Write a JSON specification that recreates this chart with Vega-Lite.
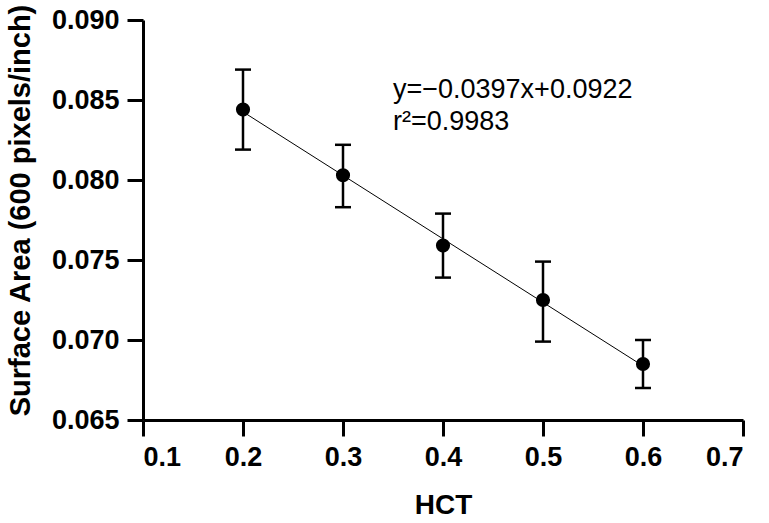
{
  "$schema": "https://vega.github.io/schema/vega-lite/v6.json",
  "width": 600,
  "height": 400,
  "autosize": {"type": "none"},
  "padding": {"left": 143, "top": 20, "right": 26, "bottom": 103},
  "background": "white",
  "config": {
    "font": "Liberation Sans",
    "view": {"stroke": null},
    "axis": {
      "grid": false,
      "domainColor": "black",
      "domainWidth": 3,
      "tickColor": "black",
      "tickWidth": 3,
      "tickSize": 16,
      "labelColor": "black",
      "labelFont": "Liberation Sans",
      "labelFontWeight": "bold",
      "labelFontSize": 27,
      "titleColor": "black",
      "titleFont": "Liberation Sans",
      "titleFontWeight": "bold",
      "titleFontSize": 28
    }
  },
  "datasets": {
    "measurements": [
      {"hct": 0.2, "area": 0.0844, "lo": 0.0819, "hi": 0.0869},
      {"hct": 0.3, "area": 0.0803, "lo": 0.0783, "hi": 0.0822},
      {"hct": 0.4, "area": 0.0759, "lo": 0.0739, "hi": 0.0779},
      {"hct": 0.5, "area": 0.0725, "lo": 0.0699, "hi": 0.0749},
      {"hct": 0.6, "area": 0.0685, "lo": 0.0670, "hi": 0.0700}
    ],
    "fit": [
      {"hct": 0.2, "area": 0.08426},
      {"hct": 0.6, "area": 0.06838}
    ],
    "notes": [
      {"hct": 0.35, "area": 0.08563, "text": "y=−0.0397x+0.0922"},
      {"hct": 0.35, "area": 0.08363, "text": "r²=0.9983"}
    ]
  },
  "layer": [
    {
      "data": {"name": "fit"},
      "mark": {"type": "line", "color": "black", "strokeWidth": 1},
      "encoding": {
        "x": {
          "field": "hct", "type": "quantitative",
          "scale": {"domain": [0.1, 0.7], "nice": false, "zero": false},
          "axis": {
            "title": "HCT",
            "values": [0.1, 0.2, 0.3, 0.4, 0.5, 0.6, 0.7],
            "format": ".1f",
            "labelPadding": 8,
            "titleX": 300,
            "titleY": 85,
            "titleBaseline": "middle"
          }
        },
        "y": {
          "field": "area", "type": "quantitative",
          "scale": {"domain": [0.065, 0.09], "nice": false, "zero": false},
          "axis": {
            "title": "Surface Area (600 pixels/inch)",
            "values": [0.065, 0.07, 0.075, 0.08, 0.085, 0.09],
            "format": ".3f",
            "labelPadding": 8,
            "titleX": -123,
            "titleY": 190,
            "titleAngle": -90,
            "titleAlign": "center",
            "titleBaseline": "middle",
            "titleFontSize": 29
          }
        }
      }
    },
    {
      "data": {"name": "measurements"},
      "mark": {"type": "rule", "color": "black", "strokeWidth": 2.5},
      "encoding": {
        "x": {"field": "hct", "type": "quantitative"},
        "y": {"field": "lo", "type": "quantitative"},
        "y2": {"field": "hi"}
      }
    },
    {
      "data": {"name": "measurements"},
      "mark": {"type": "tick", "orient": "horizontal", "color": "black", "size": 16, "thickness": 2.5, "opacity": 1},
      "encoding": {
        "x": {"field": "hct", "type": "quantitative"},
        "y": {"field": "lo", "type": "quantitative"}
      }
    },
    {
      "data": {"name": "measurements"},
      "mark": {"type": "tick", "orient": "horizontal", "color": "black", "size": 16, "thickness": 2.5, "opacity": 1},
      "encoding": {
        "x": {"field": "hct", "type": "quantitative"},
        "y": {"field": "hi", "type": "quantitative"}
      }
    },
    {
      "data": {"name": "measurements"},
      "mark": {"type": "point", "shape": "circle", "filled": true, "color": "black", "size": 200, "opacity": 1},
      "encoding": {
        "x": {"field": "hct", "type": "quantitative"},
        "y": {"field": "area", "type": "quantitative"}
      }
    },
    {
      "data": {"name": "notes"},
      "mark": {"type": "text", "align": "left", "baseline": "middle", "font": "Liberation Sans", "fontSize": 27, "color": "black"},
      "encoding": {
        "x": {"field": "hct", "type": "quantitative"},
        "y": {"field": "area", "type": "quantitative"},
        "text": {"field": "text"}
      }
    }
  ]
}
